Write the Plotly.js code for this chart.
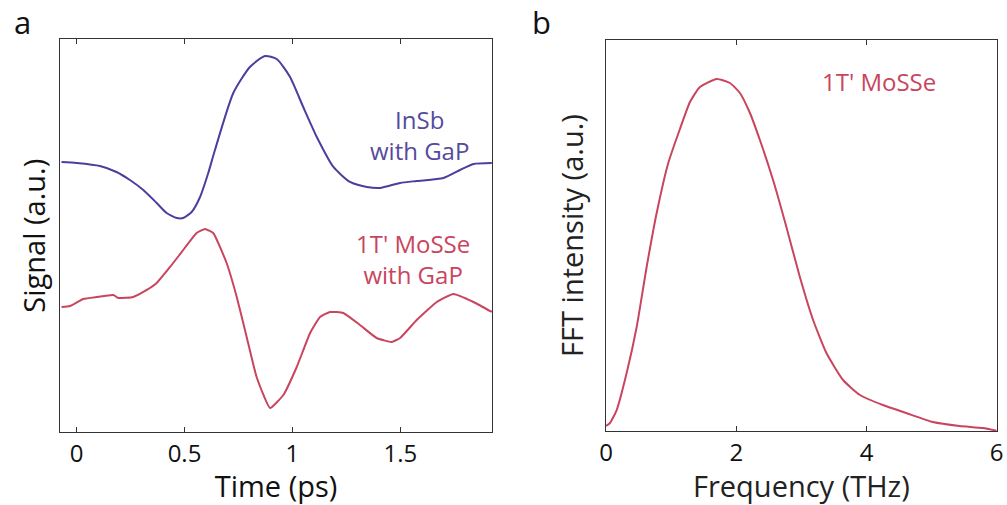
<!DOCTYPE html>
<html>
<head>
<meta charset="utf-8">
<script src="https://cdn.plot.ly/plotly-3.0.1.min.js"></script>
<style>html,body{margin:0;padding:0;background:#fff;}#chart{width:1007px;height:505px;}</style>
</head>
<body>
<div id="chart"></div>
<script>
// Panel a: time-domain signals (ps, a.u.)
const timeInSb = [-0.07,0,0.108,0.185,0.247,0.309,0.371,0.417,0.464,0.494,0.533,0.572,0.610,0.641,0.726,0.803,0.873,0.927,0.989,1.05,1.113,1.19,1.267,1.345,1.406,1.499,1.576,1.70,1.777,1.839,1.924];
const signalInSb = [2.70,2.69,2.66,2.60,2.52,2.42,2.29,2.19,2.14,2.14,2.20,2.35,2.59,2.82,3.39,3.65,3.76,3.73,3.55,3.25,2.95,2.65,2.50,2.45,2.44,2.49,2.51,2.54,2.62,2.68,2.69];
const timeMoSSe = [-0.07,-0.031,0.031,0.093,0.17,0.193,0.262,0.325,0.371,0.433,0.487,0.556,0.595,0.633,0.695,0.742,0.788,0.834,0.896,0.958,1.02,1.082,1.128,1.174,1.236,1.313,1.39,1.46,1.499,1.576,1.669,1.746,1.839,1.924];
const signalMoSSe = [1.25,1.26,1.33,1.35,1.37,1.34,1.35,1.42,1.49,1.65,1.80,1.99,2.03,1.99,1.69,1.35,0.95,0.55,0.24,0.37,0.65,0.99,1.15,1.20,1.19,1.07,0.94,0.90,0.94,1.12,1.30,1.38,1.30,1.20];
// Panel b: FFT spectrum (THz, a.u.)
const freq = [0,0.061,0.164,0.317,0.471,0.624,0.778,0.956,1.135,1.289,1.442,1.699,1.903,2.056,2.21,2.363,2.57,2.77,2.977,3.18,3.385,3.64,3.90,4.25,4.61,5.02,5.43,5.79,6.0];
const fftIntensity = [0.05,0.08,0.21,0.58,1.04,1.64,2.18,2.68,3.02,3.29,3.44,3.52,3.48,3.38,3.18,2.91,2.50,2.04,1.54,1.11,0.78,0.51,0.36,0.26,0.18,0.09,0.05,0.03,0.003];
const timeTicks = [0,0.5,1,1.5];
const freqTicks = [0,2,4,6];

const BLUE = '#4a3f9c', RED = '#c9455e', BLUE_T = '#554aa0', RED_T = '#c9455e';
const FONT = 'Open Sans, Noto Sans, sans-serif';
const AX = '#333333';

const traces = [
  {x: timeInSb, y: signalInSb, xaxis:'x', yaxis:'y', mode:'lines', line:{color:BLUE, width:2, shape:'spline', smoothing:0.6}, hoverinfo:'skip'},
  {x: timeMoSSe, y: signalMoSSe, xaxis:'x', yaxis:'y', mode:'lines', line:{color:RED, width:2, shape:'spline', smoothing:0.4}, hoverinfo:'skip'},
  {x: freq, y: fftIntensity, xaxis:'x2', yaxis:'y2', mode:'lines', line:{color:RED, width:2, shape:'spline', smoothing:0.5}, hoverinfo:'skip'}
];

const xCommon = {showline:true, linecolor:AX, linewidth:1.3, mirror:'ticks', ticks:'inside', ticklen:5, tickcolor:AX, tickwidth:1.2, showgrid:false, zeroline:false, tickfont:{family:FONT, size:24, color:'#111'}};
const yCommon = {showline:true, linecolor:AX, linewidth:1.3, mirror:true, ticks:'', showticklabels:false, showgrid:false, zeroline:false};

const layout = {
  width:1007, height:505,
  margin:{l:0, r:0, t:0, b:0},
  paper_bgcolor:'#fff', plot_bgcolor:'#fff',
  showlegend:false,
  font:{family:FONT, color:'#111'},
  xaxis: Object.assign({}, xCommon, {domain:[0.0596,0.4886], range:[-0.077,1.925], tickvals:timeTicks, ticktext:['0','0.5','1','1.5'], anchor:'y',
    title:{text:'Time (ps)', font:{family:FONT, size:29, color:'#111'}, standoff:0}}),
  yaxis: Object.assign({}, yCommon, {domain:[0.1446,0.9218], range:[0,3.925], anchor:'x',
    title:{text:'Signal (a.u.)', font:{family:FONT, size:29, color:'#111'}, standoff:4}}),
  xaxis2: Object.assign({}, xCommon, {domain:[0.6018,0.9898], range:[0,6], tickvals:freqTicks, anchor:'y2',
    title:{text:'Frequency (THz)', font:{family:FONT, size:29, color:'#222'}, standoff:0}}),
  yaxis2: Object.assign({}, yCommon, {domain:[0.1465,0.9208], range:[0,3.91], anchor:'x2',
    title:{text:'FFT intensity (a.u.)', font:{family:FONT, size:29, color:'#222'}, standoff:12}}),
  annotations:[
    {xref:'paper', yref:'paper', x:12/1007, y:1-22/505, xanchor:'left', yanchor:'middle', text:'a', showarrow:false, font:{family:FONT, size:31, color:'#111'}},
    {xref:'paper', yref:'paper', x:530/1007, y:1-22/505, xanchor:'left', yanchor:'middle', text:'b', showarrow:false, font:{family:FONT, size:31, color:'#111'}},
    {xref:'x', yref:'y', x:1.59, y:2.97, xanchor:'center', yanchor:'middle', text:'InSb<br>with GaP', showarrow:false, font:{family:FONT, size:24, color:BLUE_T}},
    {xref:'x', yref:'y', x:1.56, y:1.73, xanchor:'center', yanchor:'middle', text:"1T' MoSSe<br>with GaP", showarrow:false, font:{family:FONT, size:24, color:RED_T}},
    {xref:'x2', yref:'y2', x:4.19, y:3.49, xanchor:'center', yanchor:'middle', text:"1T' MoSSe", showarrow:false, font:{family:FONT, size:24, color:RED_T}}
  ]
};

Plotly.newPlot('chart', traces, layout, {staticPlot:true, displayModeBar:false});
</script>
</body>
</html>
